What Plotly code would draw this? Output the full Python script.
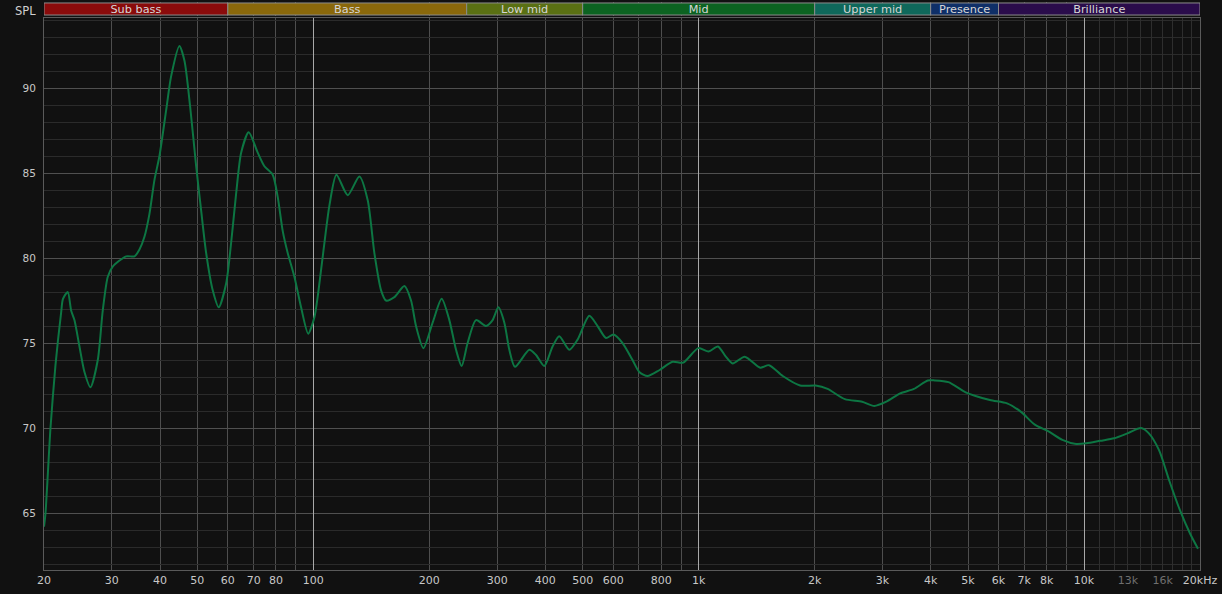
import math
import plotly.graph_objects as go

# ---------------- data ----------------
freq_hz = [20, 20.18, 20.79, 21.42, 22.16, 22.40, 23.05, 23.53, 23.99, 24.72, 25.47, 26.40,
           27.58, 28.41, 29.28, 30.16, 32.68, 34.34, 35.38, 36.45, 37.56, 38.70, 39.87, 41.50,
           42.76, 44.93, 46.30, 47.90, 49.65, 51.15, 52.70, 54.82, 56.82, 59.39, 61.19, 63.05,
           64.96, 67.97, 71.72, 74.65, 78.44, 80.82, 83.27, 85.80, 89.30, 92.94, 96.98, 100.6,
           102.6, 105.8, 110.1, 114.8, 122.8, 131.7, 138.4, 144.0, 149.9, 154.4, 162.3, 172.3,
           179.3, 184.7, 193.0, 204.0, 215.3, 225.4, 234.6, 242.6, 251.4, 264.4, 280.7, 291.9,
           302.1, 313.1, 322.6, 333.7, 363.4, 378.3, 397.5, 417.7, 434.8, 461.5, 485.0, 520.1,
           546.6, 574.7, 601.4, 634.6, 673.6, 701.2, 736.8, 790.1, 855.5, 912.0, 997.3, 1061,
           1122, 1176, 1225, 1317, 1445, 1522, 1653, 1833, 2011, 2161, 2395, 2656, 2855, 3069,
           3334, 3619, 3931, 4096, 4448, 4931, 5698, 6315, 6863, 7453, 8092, 8787, 9541, 10153,
           11024, 11972, 13002, 14062, 14714, 15658, 16650, 17718, 18842, 19762]

spl_db = [64.2, 65.0, 70.0, 73.7, 76.8, 77.6, 78.0, 76.9, 76.35, 74.8, 73.3, 72.4,
          74.0, 76.9, 78.9, 79.5, 80.1, 80.1, 80.5, 81.25, 82.6, 84.6, 86.0, 88.7,
          90.7, 92.47, 91.6, 88.9, 85.4, 82.8, 80.3, 78.1, 77.1, 78.5, 80.9, 83.8,
          86.2, 87.4, 86.2, 85.4, 84.9, 83.6, 81.6, 80.3, 78.9, 77.1, 75.55, 76.5,
          77.7, 80.1, 83.1, 84.9, 83.7, 84.8, 83.4, 80.3, 78.1, 77.5, 77.7, 78.35,
          77.5, 76.0, 74.7, 76.2, 77.6, 76.35, 74.6, 73.65, 75.0, 76.35, 76.0, 76.35,
          77.1, 76.2, 74.6, 73.6, 74.6, 74.3, 73.65, 74.8, 75.4, 74.6, 75.2, 76.6,
          76.0, 75.3, 75.5, 75.0, 74.0, 73.3, 73.06, 73.4, 73.9, 73.85, 74.7, 74.5,
          74.8, 74.2, 73.8, 74.2, 73.55, 73.7, 73.06, 72.5, 72.5, 72.3, 71.7, 71.55, 71.3, 71.55,
          72.04, 72.3, 72.8, 72.8, 72.7, 72.1, 71.65, 71.45, 70.95, 70.2, 69.8, 69.3, 69.06, 69.1,
          69.25, 69.4, 69.7, 70.0, 69.7, 68.7, 66.9, 65.2, 63.8, 62.9]

band_names = ["Sub bass", "Bass", "Low mid", "Mid", "Upper mid", "Presence", "Brilliance"]
band_edges_hz = [20, 60, 250, 500, 2000, 4000, 6000, 20000]
band_colors = ["#8a0b0b", "#8a680b", "#5a7013", "#0c6321", "#0f685b", "#0f2f68", "#2a0c4b"]

xtick_vals = [20, 30, 40, 50, 60, 70, 80, 100, 200, 300, 400, 500, 600, 800, 1000,
              2000, 3000, 4000, 5000, 6000, 7000, 8000, 10000, 13000, 16000, 20000]
xtick_text = ["20", "30", "40", "50", "60", "70", "80", "100", "200", "300", "400", "500",
              "600", "800", "1k", "2k", "3k", "4k", "5k", "6k", "7k", "8k", "10k",
              "<span style='color:#6f6f6f'>13k</span>",
              "<span style='color:#6f6f6f'>16k</span>", "20kHz"]
grid_normal_hz = [30, 40, 50, 60, 70, 80, 90, 200, 300, 400, 500, 600, 700, 800, 900,
                  2000, 3000, 4000, 5000, 6000, 7000, 8000, 9000]
grid_bright_hz = [100, 1000, 10000]
grid_faint_hz = [11000, 12000, 13000, 14000, 15000, 16000, 17000, 18000, 19000]

# ---------------- figure ----------------
BG = "#111111"
FONT = "DejaVu Sans"
xr = [math.log10(20), math.log10(20000)]

fig = go.Figure()

# invisible trace that activates the overlay grid axis
fig.add_trace(go.Scatter(x=[20, 20000], y=[70, 70], mode="markers",
                         marker=dict(size=1, opacity=0), xaxis="x2", yaxis="y",
                         hoverinfo="skip", showlegend=False))

# frequency bands
for i, name in enumerate(band_names):
    f0, f1 = band_edges_hz[i], band_edges_hz[i + 1]
    fig.add_trace(go.Scatter(x=[f0, f1, f1, f0, f0], y=[0, 0, 1, 1, 0], mode="lines",
                             fill="toself", fillcolor=band_colors[i],
                             line=dict(color="#8c8c8c", width=1),
                             xaxis="x", yaxis="y2", hoverinfo="skip", showlegend=False))
    fig.add_trace(go.Scatter(x=[math.sqrt(f0 * f1)], y=[0.42], mode="text", text=[name],
                             textfont=dict(family=FONT, size=11.3, color="#d6d6d6"),
                             xaxis="x", yaxis="y2", hoverinfo="skip", showlegend=False))

# response curve
fig.add_trace(go.Scatter(x=freq_hz, y=spl_db, mode="lines",
                         line=dict(color="#0d7643", width=2, shape="spline", smoothing=0.7),
                         xaxis="x", yaxis="y", showlegend=False, name="SPL"))

fig.update_layout(
    width=1222, height=594,
    margin=dict(l=44, r=22, t=2, b=24),
    paper_bgcolor=BG, plot_bgcolor=BG,
    font=dict(family=FONT, size=11, color="#c8c8c8"),
    showlegend=False,
    xaxis=dict(type="log", range=xr, anchor="y",
               tickmode="array", tickvals=xtick_vals, ticktext=xtick_text,
               showgrid=False, zeroline=False, ticks="",
               showline=True, linecolor="#5a5a5a", linewidth=1, mirror=True,
               minor=dict(tickmode="array", tickvals=grid_normal_hz, showgrid=True,
                          gridcolor="#4e4e4e", gridwidth=1, ticks=""),
               tickfont=dict(family=FONT, size=11, color="#c8c8c8")),
    xaxis2=dict(type="log", range=xr, overlaying="x", anchor="y",
                tickmode="array", tickvals=grid_bright_hz, showticklabels=False,
                showgrid=True, gridcolor="#a8a8a8", gridwidth=1, zeroline=False, ticks="",
                showline=False,
                minor=dict(tickmode="array", tickvals=grid_faint_hz, showgrid=True,
                           gridcolor="#2e2e2e", gridwidth=1, ticks="")),
    yaxis=dict(domain=[0, 1 - 16 / 568], range=[61.65, 94.12],
               tickmode="linear", tick0=0, dtick=5,
               showgrid=True, gridcolor="#505050", gridwidth=1, zeroline=False, ticks="",
               showline=True, linecolor="#5a5a5a", mirror=True,
               ticklabelstandoff=5,
               minor=dict(dtick=1, tick0=0, showgrid=True, gridcolor="#2b2b2b", ticks=""),
               tickfont=dict(family=FONT, size=10.5, color="#c8c8c8")),
    yaxis2=dict(domain=[1 - 14 / 568, 1], range=[-0.08, 1.08], showgrid=False,
                zeroline=False, showticklabels=False, ticks="", showline=False,
                fixedrange=True),
    annotations=[dict(text="SPL", xref="paper", yref="paper", x=0, y=1,
                      xanchor="right", yanchor="top", xshift=-6, yshift=0, showarrow=False,
                      font=dict(family=FONT, size=11.5, color="#d0d0d0"))],
)

fig.write_html("out.html",
               config={"displayModeBar": False},
               post_script="document.body.style.margin='0';"
                           "document.body.style.background='#111111';")
